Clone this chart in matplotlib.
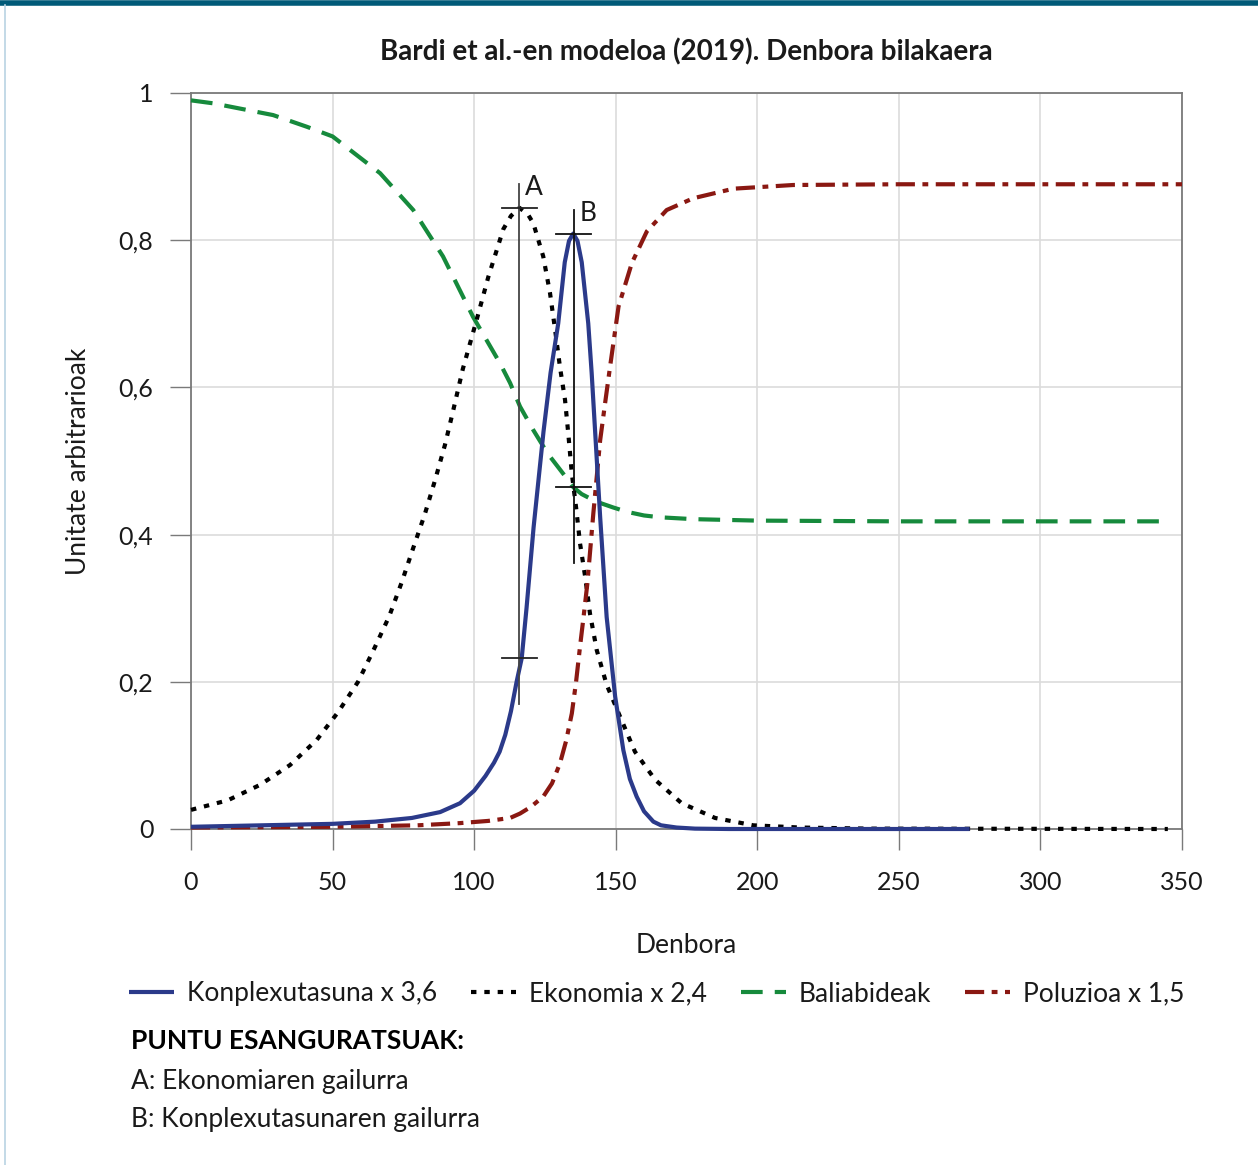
import matplotlib
matplotlib.use("Agg")
import matplotlib.pyplot as plt
from matplotlib.lines import Line2D

# ---------------- data ----------------
komp_x = [0, 25, 50, 65, 78, 88, 95, 100, 104, 107, 109, 111, 113, 115, 116.8, 118.5, 121,
          124.5, 127, 129.7, 132, 133.5, 135, 136.5, 138, 140.3, 141.5, 142.7, 144.5,
          146.8, 149.8, 152.7, 155, 157.4, 160, 163.3, 166, 171.5, 178, 190, 275]
komp_y = [0.003, 0.005, 0.007, 0.010, 0.015, 0.023, 0.035, 0.052, 0.072, 0.090, 0.105,
          0.128, 0.160, 0.200, 0.232, 0.300, 0.410, 0.540, 0.620, 0.687, 0.770, 0.799,
          0.809, 0.799, 0.770, 0.687, 0.620, 0.542, 0.424, 0.288, 0.180, 0.107, 0.068,
          0.044, 0.024, 0.010, 0.005, 0.002, 0.0005, 0.0, 0.0]

eko_x = [0, 13, 24.4, 35, 44.4, 52, 59, 64.7, 70, 74.4, 78.5, 82.6, 86.2, 89.7, 92.5, 96,
         100.9, 105, 110.3, 113, 116, 119, 120.9, 124.4, 126.8, 128.6, 130.3, 132.1, 133.3,
         134.5, 136, 137.4, 139.2, 140.9, 143.3, 146.8, 151.5, 156.8, 163.9, 173.3, 185.1,
         198.6, 215, 240, 345]
eko_y = [0.026, 0.039, 0.060, 0.087, 0.121, 0.159, 0.200, 0.245, 0.289, 0.335, 0.382,
         0.428, 0.474, 0.522, 0.567, 0.625, 0.692, 0.750, 0.815, 0.833, 0.844, 0.835,
         0.823, 0.778, 0.728, 0.678, 0.628, 0.583, 0.535, 0.483, 0.437, 0.388, 0.343,
         0.293, 0.243, 0.196, 0.153, 0.105, 0.067, 0.035, 0.015, 0.005, 0.002, 0.0005, 0.0]

bal_x = [0, 7.8, 29, 41, 50, 66.8, 78.5, 89, 99.6, 109.1, 112.7, 116.2, 120.9, 126, 130,
         133, 135.1, 138, 141, 144.5, 149, 153.9, 160, 165.7, 177.4, 200, 250, 345]
bal_y = [0.990, 0.986, 0.970, 0.954, 0.941, 0.891, 0.841, 0.778, 0.696, 0.633, 0.606,
         0.574, 0.542, 0.510, 0.490, 0.475, 0.464, 0.455, 0.449, 0.443, 0.437, 0.431,
         0.426, 0.4235, 0.421, 0.419, 0.418, 0.418]

pol_x = [0, 50, 80, 95, 105, 112.7, 116.2, 120, 124.4, 127.5, 130.3, 132.5, 134.5, 136,
         137.4, 138.7, 140, 142.1, 144.5, 146.3, 148, 151, 155.7, 161, 168, 177.4, 191.6,
         212.7, 250, 350]
pol_y = [0.002, 0.003, 0.005, 0.008, 0.011, 0.015, 0.021, 0.030, 0.044, 0.062, 0.089,
         0.120, 0.157, 0.200, 0.248, 0.290, 0.334, 0.429, 0.528, 0.580, 0.628, 0.710,
         0.769, 0.812, 0.841, 0.857, 0.870, 0.875, 0.876, 0.876]

# significant points (A: economy peak, B: complexity peak)
A_x, A_top, A_bottom, A_peak, A_komp = 116.0, 0.876, 0.170, 0.844, 0.232
B_x, B_top, B_bottom, B_peak, B_eko = 135.1, 0.841, 0.361, 0.809, 0.464

x_ticks = [0, 50, 100, 150, 200, 250, 300, 350]
x_ticklabels = ["0", "50", "100", "150", "200", "250", "300", "350"]
y_ticks = [0, 0.2, 0.4, 0.6, 0.8, 1]
y_ticklabels = ["0", "0,2", "0,4", "0,6", "0,8", "1"]

labels = ["Konplexutasuna x 3,6", "Ekonomia x 2,4", "Baliabideak", "Poluzioa x 1,5"]
title = "Bardi et al.-en modeloa (2019). Denbora bilakaera"

# ---------------- style ----------------
plt.rcParams['font.family'] = ['Lato', 'DejaVu Sans']
TXT = '#1a1a1a'
BLUE = '#2b3a8a'
GREEN = '#168a3c'
RED = '#8a1812'
FS = 19

W, H = 1258, 1165
fig = plt.figure(figsize=(W / 100, H / 100), dpi=100)
ax = fig.add_axes([191 / W, 1 - 829 / H, (1182 - 191) / W, (829 - 93) / H])

lw = 3.0
l1, = ax.plot(komp_x, komp_y, color=BLUE, lw=lw, solid_capstyle='butt', clip_on=False, zorder=5)
l2, = ax.plot(eko_x, eko_y, color='black', lw=lw, dashes=(1.3, 1.9),
              dash_capstyle='butt', clip_on=False, zorder=4)
l3, = ax.plot(bal_x, bal_y, color=GREEN, lw=lw, dashes=(5.2, 2.9),
              dash_capstyle='butt', clip_on=False, zorder=3)
l4, = ax.plot(pol_x, pol_y, color=RED, lw=lw, dashes=(4.6, 1.8, 1.4, 1.8),
              dash_capstyle='butt', clip_on=False, zorder=4)

# markers A and B
mk_lw = 1.3
ax.plot([A_x, A_x], [A_bottom, A_top], color='#444444', lw=mk_lw, zorder=6)
ax.plot([A_x - 6.2, A_x + 6.2], [A_peak, A_peak], color='#222222', lw=mk_lw, zorder=6)
ax.plot([A_x - 6.2, A_x + 6.2], [A_komp, A_komp], color='#222222', lw=mk_lw, zorder=6)
ax.plot([B_x, B_x], [B_bottom, B_top], color='#111111', lw=mk_lw, zorder=6)
ax.plot([B_x - 6.3, B_x + 6.3], [B_peak, B_peak], color='#111111', lw=mk_lw, zorder=6)
ax.plot([B_x - 6.3, B_x + 6.3], [B_eko, B_eko], color='#111111', lw=mk_lw, zorder=6)
ax.text(A_x + 2.0, A_top - 0.004, "A", fontsize=FS, color=TXT, va='center', ha='left', zorder=7)
ax.text(B_x + 2.0, B_top - 0.005, "B", fontsize=FS, color=TXT, va='center', ha='left', zorder=7)

ax.set_xlim(0, 350)
ax.set_ylim(0, 1)
ax.set_xticks(x_ticks)
ax.set_xticklabels(x_ticklabels)
ax.set_yticks(y_ticks)
ax.set_yticklabels(y_ticklabels)
ax.grid(True, color='#dcdcdc', lw=1.2, zorder=0)
ax.set_axisbelow(True)
for s in ax.spines.values():
    s.set_color('#7a7a7a')
    s.set_linewidth(1.3)
ax.tick_params(axis='both', direction='out', length=15, width=1.0, color='#7a7a7a',
               labelsize=18, labelcolor=TXT)
ax.tick_params(axis='x', pad=15)
ax.tick_params(axis='y', pad=12)

ax.set_xlabel("Denbora", fontsize=FS, color=TXT, labelpad=28)
ax.set_ylabel("Unitate arbitrarioak", fontsize=FS, color=TXT, labelpad=20)
fig.text(686 / W, 1 - 52 / H, title, ha='center', va='center', fontsize=20,
         fontweight='bold', color=TXT)

fig.legend([l1, l2, l3, l4], labels, loc='center left',
           bbox_to_anchor=(129 / W, 1 - 994 / H), ncol=4, frameon=False,
           fontsize=FS, handlelength=1.7, handletextpad=0.5, columnspacing=1.28,
           labelcolor=TXT, borderaxespad=0, borderpad=0)

fig.text(131 / W, 1 - 1041 / H, "PUNTU ESANGURATSUAK:", ha='left', va='center',
         fontsize=FS, fontweight='bold', color='black')
fig.text(131 / W, 1 - 1081 / H, "A: Ekonomiaren gailurra", ha='left', va='center',
         fontsize=FS, color=TXT)
fig.text(131 / W, 1 - 1120 / H, "B: Konplexutasunaren gailurra", ha='left', va='center',
         fontsize=FS, color=TXT)

# page decoration: top bar and left border
fig.add_artist(Line2D([0, 1], [1 - 2.5 / H, 1 - 2.5 / H], color='#005a78', lw=4.0,
                      transform=fig.transFigure))
fig.add_artist(Line2D([5 / W, 5 / W], [0, 1 - 5 / H], color='#b9d3e3', lw=1.2,
                      transform=fig.transFigure))

fig.savefig("out.png", dpi=100)
